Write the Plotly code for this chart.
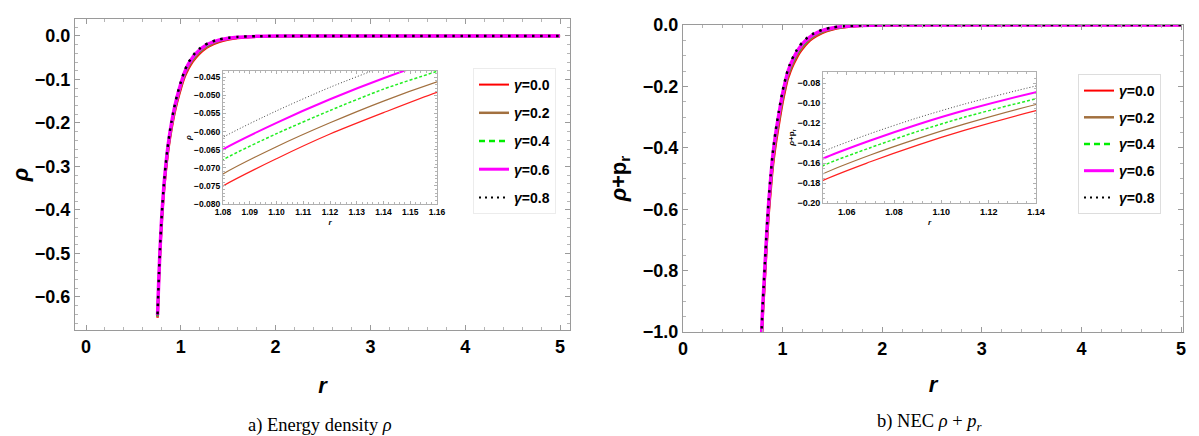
import plotly.graph_objects as go

# ---------------- data ----------------
gamma_labels = ["0.0", "0.2", "0.4", "0.6", "0.8"]

# Panel a) energy density rho(r)
r_a = [0.755, 0.76, 0.77, 0.78, 0.79, 0.80, 0.82, 0.84, 0.86, 0.88, 0.90, 0.93, 0.96,
       1.00, 1.04, 1.08, 1.10, 1.12, 1.14, 1.16, 1.20, 1.25, 1.30, 1.40, 1.50, 1.60,
       1.80, 2.00, 2.50, 3.00, 4.00, 5.00]
rho_g00 = [-0.648, -0.614, -0.556, -0.504, -0.461, -0.423, -0.361, -0.314, -0.275, -0.243,
           -0.216, -0.181, -0.153, -0.121, -0.0940, -0.0750, -0.0675, -0.0607, -0.0548,
           -0.0492, -0.0398, -0.0305, -0.0235, -0.0139, -0.0082, -0.0048, -0.0017,
           -0.0006, -0.0001, 0.0, 0.0, 0.0]
rho_g02 = [-0.646, -0.612, -0.553, -0.501, -0.458, -0.419, -0.357, -0.310, -0.271, -0.239,
           -0.212, -0.177, -0.149, -0.117, -0.0905, -0.0717, -0.0642, -0.0576, -0.0516,
           -0.0463, -0.0371, -0.0281, -0.0214, -0.0124, -0.0072, -0.0042, -0.0014,
           -0.0005, -0.0001, 0.0, 0.0, 0.0]
rho_g04 = [-0.644, -0.609, -0.550, -0.498, -0.454, -0.415, -0.353, -0.305, -0.266, -0.234,
           -0.207, -0.173, -0.145, -0.113, -0.0867, -0.0678, -0.0606, -0.0542, -0.0483,
           -0.0434, -0.0341, -0.0256, -0.0192, -0.0108, -0.0061, -0.0035, -0.0011,
           -0.0004, 0.0, 0.0, 0.0, 0.0]
rho_g06 = [-0.642, -0.607, -0.548, -0.495, -0.451, -0.412, -0.349, -0.301, -0.262, -0.230,
           -0.203, -0.169, -0.141, -0.110, -0.0835, -0.0649, -0.0576, -0.0511, -0.0453,
           -0.0402, -0.0316, -0.0234, -0.0173, -0.0095, -0.0052, -0.0029, -0.0009,
           -0.0003, 0.0, 0.0, 0.0, 0.0]
rho_g08 = [-0.640, -0.605, -0.545, -0.492, -0.447, -0.408, -0.345, -0.297, -0.258, -0.226,
           -0.199, -0.165, -0.137, -0.106, -0.0800, -0.0616, -0.0543, -0.0478, -0.0421,
           -0.0371, -0.0288, -0.0210, -0.0152, -0.0080, -0.0042, -0.0022, -0.0006,
           -0.0002, 0.0, 0.0, 0.0, 0.0]

# Panel b) NEC rho + p_r
r_b = [0.785, 0.79, 0.80, 0.81, 0.82, 0.84, 0.86, 0.88, 0.90, 0.93, 0.96, 1.00, 1.03,
       1.05, 1.07, 1.09, 1.11, 1.14, 1.17, 1.20, 1.25, 1.30, 1.40, 1.50, 1.60, 1.80,
       2.00, 2.30, 2.60, 3.00, 4.00, 5.00]
nec_g00 = [-1.076, -1.030, -0.951, -0.893, -0.837, -0.717, -0.616, -0.539, -0.466, -0.390,
           -0.328, -0.252, -0.205, -0.1775, -0.1588, -0.1421, -0.1272, -0.1076, -0.0910,
           -0.0770, -0.0583, -0.0441, -0.0253, -0.0145, -0.0083, -0.0027, -0.0009,
           -0.0002, 0.0, 0.0, 0.0, 0.0]
nec_g02 = [-1.067, -1.020, -0.941, -0.883, -0.826, -0.706, -0.605, -0.527, -0.455, -0.379,
           -0.318, -0.243, -0.197, -0.1708, -0.1520, -0.1356, -0.1209, -0.1015, -0.0856,
           -0.0720, -0.0541, -0.0406, -0.0229, -0.0130, -0.0073, -0.0023, -0.0008,
           -0.0002, 0.0, 0.0, 0.0, 0.0]
nec_g04 = [-1.058, -1.010, -0.930, -0.872, -0.814, -0.694, -0.593, -0.515, -0.443, -0.368,
           -0.307, -0.234, -0.189, -0.1627, -0.1447, -0.1284, -0.1140, -0.0958, -0.0799,
           -0.0667, -0.0496, -0.0368, -0.0204, -0.0113, -0.0063, -0.0020, -0.0006,
           -0.0001, 0.0, 0.0, 0.0, 0.0]
nec_g06 = [-1.049, -1.000, -0.920, -0.861, -0.802, -0.682, -0.581, -0.502, -0.431, -0.356,
           -0.296, -0.224, -0.181, -0.1556, -0.1375, -0.1215, -0.1073, -0.0891, -0.0739,
           -0.0614, -0.0451, -0.0331, -0.0178, -0.0097, -0.0052, -0.0016, -0.0004,
           0.0, 0.0, 0.0, 0.0, 0.0]
nec_g08 = [-1.040, -0.990, -0.910, -0.850, -0.790, -0.670, -0.570, -0.490, -0.420, -0.345,
           -0.285, -0.215, -0.173, -0.1486, -0.1306, -0.1148, -0.1009, -0.0830, -0.0684,
           -0.0563, -0.0408, -0.0295, -0.0154, -0.0081, -0.0042, -0.0012, -0.0003,
           0.0, 0.0, 0.0, 0.0, 0.0]

rho_series = [rho_g00, rho_g02, rho_g04, rho_g06, rho_g08]
nec_series = [nec_g00, nec_g02, nec_g04, nec_g06, nec_g08]

# ---------------- styles ----------------
colors = ["#ff0000", "#a2703f", "#00ee00", "#ff00ff", "#000000"]
main_w = [2.5, 2.5, 2.5, 3.5, 2.5]
main_dash = ["solid", "solid", "6px,4px", "solid", "2.5px,5.5px"]
inset_w = [1.2, 1.2, 1.5, 2, 1]
inset_dash = ["solid", "solid", "3px,2px", "solid", "1px,2px"]
inset_col = ["#ff2020", "#a2703f", "#22ee22", "#ff00ff", "#444444"]
leg_w = [2, 2.5, 2.5, 3, 2]
leg_dash = ["solid", "solid", "6px,4px", "solid", "2px,4px"]

# page body has an 8px margin: figure placed at (8, 8)
OFF = 8
W, H = 1199 - OFF, 436 - OFF
def px(x):
    return (x - OFF) / W
def py(y):
    return 1 - (y - OFF) / H

SANS = "Liberation Sans, Arial, sans-serif"
SERIF = "Liberation Serif, Times New Roman, serif"
FRAME = "#9a9a9a"

fig = go.Figure()

def add_set(rr, series, xa, ya, widths, dashes, cols):
    for i, vals in enumerate(series):
        fig.add_trace(go.Scatter(
            x=rr, y=vals, mode="lines", xaxis=xa, yaxis=ya, showlegend=False,
            line=dict(color=cols[i], width=widths[i], dash=dashes[i],
                      shape="spline", smoothing=0.7),
            hoverinfo="skip"))

add_set(r_a, rho_series, "x", "y", main_w, main_dash, colors)
add_set(r_a, rho_series, "x2", "y2", inset_w, inset_dash, inset_col)
add_set(r_b, nec_series, "x3", "y3", main_w, main_dash, colors)
add_set(r_b, nec_series, "x4", "y4", inset_w, inset_dash, inset_col)

# legend entries
for lg, xa, ya in (("legend", "x", "y"), ("legend2", "x3", "y3")):
    for i, g in enumerate(gamma_labels):
        fig.add_trace(go.Scatter(
            x=[None], y=[None], mode="lines", xaxis=xa, yaxis=ya,
            name="<i>\u03b3</i>=" + g, legend=lg, legendgroup=lg + g,
            line=dict(color=colors[i], width=leg_w[i], dash=leg_dash[i])))

def axis(domain, rng, dtick, minor_dtick, fmt, size, ticklen, anchor, title=None,
         title_size=None, standoff=None, color=FRAME):
    d = dict(domain=domain, range=rng, dtick=dtick, tickformat=fmt, automargin=False,
             showgrid=False, zeroline=False, showline=True, linecolor=color, linewidth=1,
             mirror="allticks", ticks="inside", ticklen=ticklen, tickcolor=color,
             tickwidth=1, anchor=anchor,
             tickfont=dict(family=SANS, size=size, color="black", weight="bold"),
             minor=dict(dtick=minor_dtick, ticks="inside", ticklen=max(2, ticklen * 0.55),
                        tickcolor="#b5b5b5", showgrid=False))
    if title is not None:
        d["title"] = dict(text=title, standoff=standoff,
                          font=dict(family=SANS, size=title_size, color="black",
                                    weight="bold"))
    return d

fig.update_layout(
    width=W, height=H, margin=dict(l=0, r=0, t=0, b=0),
    paper_bgcolor="white", plot_bgcolor="white",
    xaxis=axis([px(75), px(570)], [-0.116, 5.105], 1, 0.2, "d", 18, 5, "y",
               "<i>r</i>", 22, 22),
    yaxis=axis([py(330), py(19)], [-0.676, 0.039], 0.1, 0.02, ".1f", 18, 5, "x",
               "<i>\u03c1</i>", 22, 17),
    xaxis2=axis([px(223), px(437)], [1.08, 1.16], 0.01, 0.002, ".2f", 8.5, 3, "y2",
                "<i>r</i>", 8, 3, color="#b0b0b0"),
    yaxis2=axis([py(204), py(71)], [-0.080, -0.0433], 0.005, 0.001, ".3f", 8.5, 3, "x2",
                "<i>\u03c1</i>", 8, 1, color="#b0b0b0"),
    xaxis3=axis([px(683), px(1183)], [0, 5.02], 1, 0.2, "d", 18, 5, "y3",
                "<i>r</i>", 22, 19),
    yaxis3=axis([py(332), py(25)], [-1.0, 0.0], 0.2, 0.05, ".1f", 18, 5, "x3",
                "<i>\u03c1</i>+p<sub>r</sub>", 22, 10),
    xaxis4=axis([px(823), px(1036)], [1.05, 1.14], 0.02, 0.004, ".2f", 9, 3, "y4",
                "<i>r</i>", 8, 3, color="#b0b0b0"),
    yaxis4=axis([py(203), py(72)], [-0.2, -0.069], 0.02, 0.005, ".2f", 9, 3, "x4",
                "<i>\u03c1</i>+p<sub>r</sub>", 8, 1, color="#b0b0b0"),
    legend=dict(x=px(473), y=py(68), xanchor="left", yanchor="top",
                bgcolor="white", bordercolor="#ececec", borderwidth=1,
                tracegroupgap=7,
                font=dict(family=SANS, size=14, color="black", weight="bold")),
    legend2=dict(x=px(1078), y=py(74), xanchor="left", yanchor="top",
                 bgcolor="white", bordercolor="#dddddd", borderwidth=1,
                 tracegroupgap=5.5,
                 font=dict(family=SANS, size=14, color="black", weight="bold")),
    annotations=[
        dict(text="a) Energy density <i>\u03c1</i>", x=px(320), y=py(425),
             xref="paper", yref="paper", showarrow=False,
             xanchor="center", yanchor="middle",
             font=dict(family=SERIF, size=18.5, color="black")),
        dict(text="b) NEC <i>\u03c1</i> + <i>p<sub>r</sub></i>", x=px(930), y=py(422),
             xref="paper", yref="paper", showarrow=False,
             xanchor="center", yanchor="middle",
             font=dict(family=SERIF, size=18.5, color="black")),
    ],
)

fig.write_html("out.html")
